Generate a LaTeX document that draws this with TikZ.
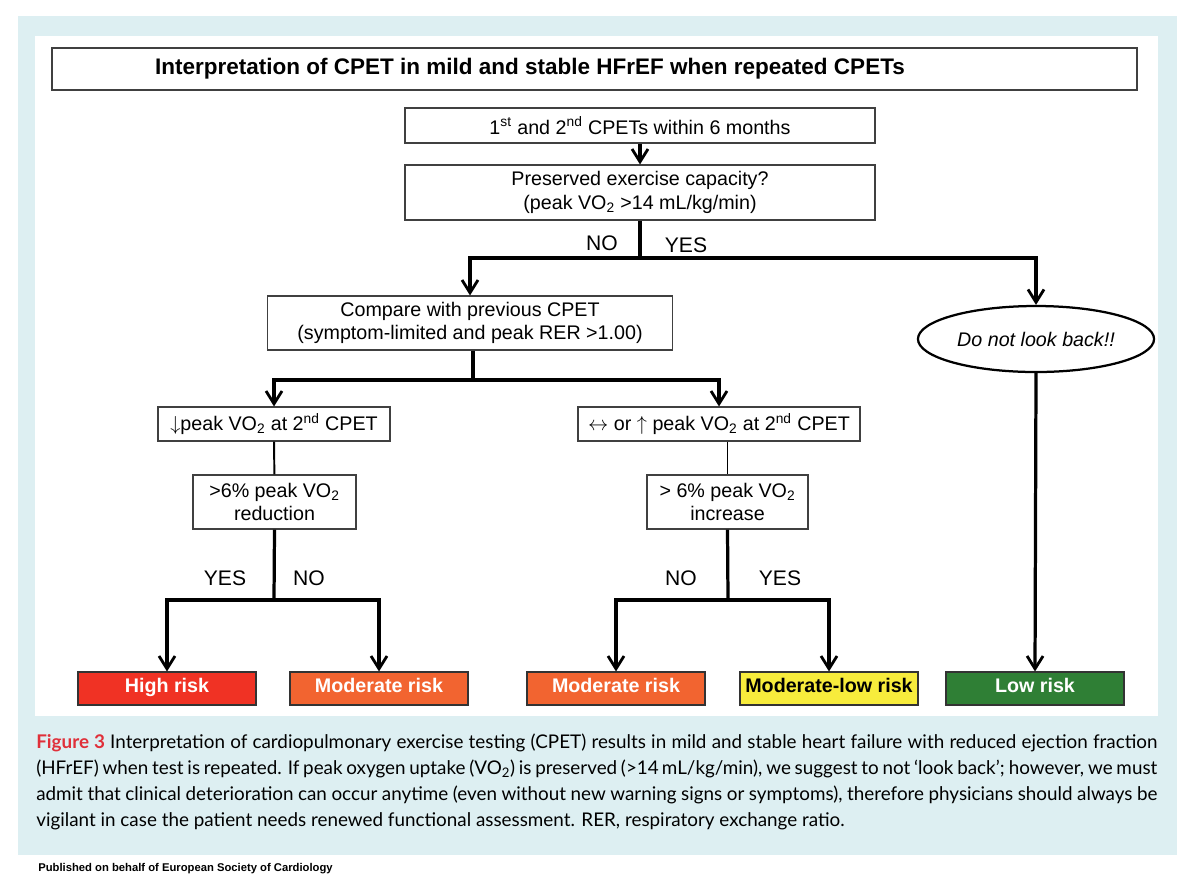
\documentclass[tikz,border=0pt]{standalone}
\usepackage{fontspec}
\setmainfont{Liberation Sans}
\newfontfamily\capfont{Lato}
\usetikzlibrary{arrows.meta,positioning,shapes.geometric}
\definecolor{panelblue}{HTML}{DDEFF2}
\definecolor{highred}{HTML}{F03224}
\definecolor{modorange}{HTML}{F26430}
\definecolor{lowyellow}{HTML}{F7EC3C}
\definecolor{lowgreen}{HTML}{2F7F35}
\definecolor{figred}{HTML}{E0303A}
\begin{document}
\begin{tikzpicture}[x=0.025cm,y=-0.025cm,
  box/.style={rectangle, draw=black!75, line width=0.8pt, fill=white,
              font=\fontsize{14}{16.5}\selectfont, align=center, inner sep=2pt},
  risk/.style={rectangle, draw=black!80, line width=0.8pt, minimum width=178*0.025cm,
              minimum height=33*0.025cm, text depth=0.25em, text height=0.75em,
              font=\fontsize{14}{16}\selectfont\bfseries},
  lbl/.style={font=\fontsize{15}{17}\selectfont},
  arr/.style={-{Straight Barb[length=3.2mm,width=4mm,line width=2pt]}, line width=2.3pt},
  ln/.style={line width=2.3pt},
]
  % background
  \fill[white] (0,0) rectangle (1200,884);
  \useasboundingbox (0,0) rectangle (1200,884);
  \fill[panelblue] (18,16) rectangle (1177,855);
  \fill[white] (35,36) rectangle (1158,716);

  % title
  \node[box, minimum width=1085*0.025cm, minimum height=42*0.025cm] (title) at (594.5,69) {};
  \node[font=\fontsize{16}{18}\selectfont\bfseries] (titletext) at (530,69)
    {Interpretation of CPET in mild and stable HFrEF when repeated CPETs};

  % top boxes
  \node[box, minimum width=470*0.025cm, minimum height=35*0.025cm] (start) at (640,125.5)
    {1\textsuperscript{st} and 2\textsuperscript{nd} CPETs within 6 months};
  \node[box, minimum width=470*0.025cm, minimum height=55*0.025cm] (pres) at (640,192.5)
    {Preserved exercise capacity?\\(peak VO\textsubscript{2} >14 mL/kg/min)};
  \draw[arr] (start) -- (pres);

  \node[box, minimum width=405*0.025cm, minimum height=54*0.025cm] (comp) at (470,323)
    {Compare with previous CPET\\(symptom-limited and peak RER >1.00)};
  \node[ellipse, draw, line width=1.6pt, fill=white, minimum width=200*0.025cm,
        minimum height=66*0.025cm, font=\fontsize{14}{16}\selectfont\itshape] (back) at (1036,339)
    {Do not look back!!};

  \coordinate (j1) at (640,258);
  \draw[ln] (pres.south) -- (j1);
  \draw[arr] (j1) -| (comp.north);
  \draw[arr] (j1) -| (back.north);
  \node[lbl] (no1) at (602,243) {NO};
  \node[lbl] (yes1) at (686,245) {YES};

  % second level
  \node[box, minimum width=232*0.025cm, minimum height=34*0.025cm] (down) at (274,424)
    {\textbf{$\downarrow$}peak VO\textsubscript{2} at 2\textsuperscript{nd} CPET};
  \node[box, minimum width=282*0.025cm, minimum height=34*0.025cm] (up) at (719,424)
    {$\leftrightarrow$ or $\uparrow$ peak VO\textsubscript{2} at 2\textsuperscript{nd} CPET};
  \coordinate (j2) at (473,380);
  \draw[ln] (comp.south -| j2) -- (j2);
  \draw[arr] (j2) -| (down.north);
  \draw[arr] (j2) -| (up.north);

  \node[box, minimum width=163*0.025cm, minimum height=54*0.025cm] (red) at (274.5,502)
    {>6\% peak VO\textsubscript{2}\\reduction};
  \node[box, minimum width=161*0.025cm, minimum height=54*0.025cm] (inc) at (727.5,502)
    {> 6\% peak VO\textsubscript{2}\\increase};
  \draw[line width=1.4pt] (down) -- (red);
  \draw[line width=1.4pt] (up.south -| inc) -- (inc);

  % risk boxes
  \node[risk, fill=highred, text=white] (high) at (167,688.5) {High risk};
  \node[risk, fill=modorange, text=white] (mod1) at (379,688.5) {Moderate risk};
  \node[risk, fill=modorange, text=white] (mod2) at (616,688.5) {Moderate risk};
  \node[risk, fill=lowyellow, text=black] (modlow) at (829,688.5) {Moderate-low risk};
  \node[risk, fill=lowgreen, text=white] (low) at (1035,688.5) {Low risk};

  \coordinate (j3) at (274,600);
  \coordinate (j4) at (728,600);
  \draw[ln] (red.south) -- (j3);
  \draw[ln] (inc.south) -- (j4);
  \draw[arr] (j3) -| (high.north);
  \draw[arr] (j3) -| (mod1.north);
  \draw[arr] (j4) -| (mod2.north);
  \draw[arr] (j4) -| (modlow.north);
  \draw[arr] (back.south) -- (low.north);
  \node[lbl] (yes2) at (225,578) {YES};
  \node[lbl] (no2) at (309,578) {NO};
  \node[lbl] (no3) at (681,578) {NO};
  \node[lbl] (yes3) at (780,578) {YES};

  % caption
  \node[anchor=north west, inner sep=0pt, text width=1121*0.025cm, align=justify,
        font=\capfont\fontsize{13.4}{18.5}\selectfont] (caption) at (36,734)
    {\textcolor{figred}{\textbf{Figure 3}} Interpretation of cardiopulmonary exercise testing (CPET) results in mild and stable heart failure with reduced ejection fraction (HFrEF) when test is repeated. If peak oxygen uptake (VO\textsubscript{2}) is preserved (>14\,mL/kg/min), we suggest to not ‘look back’; however, we must admit that clinical deterioration can occur anytime (even without new warning signs or symptoms), therefore physicians should always be vigilant in case the patient needs renewed functional assessment. RER, respiratory exchange ratio.};
  \node[anchor=west, inner sep=0pt, font=\fontsize{8}{10}\selectfont\bfseries] (pub) at (38,869)
    {Published on behalf of European Society of Cardiology};
\end{tikzpicture}
\end{document}
